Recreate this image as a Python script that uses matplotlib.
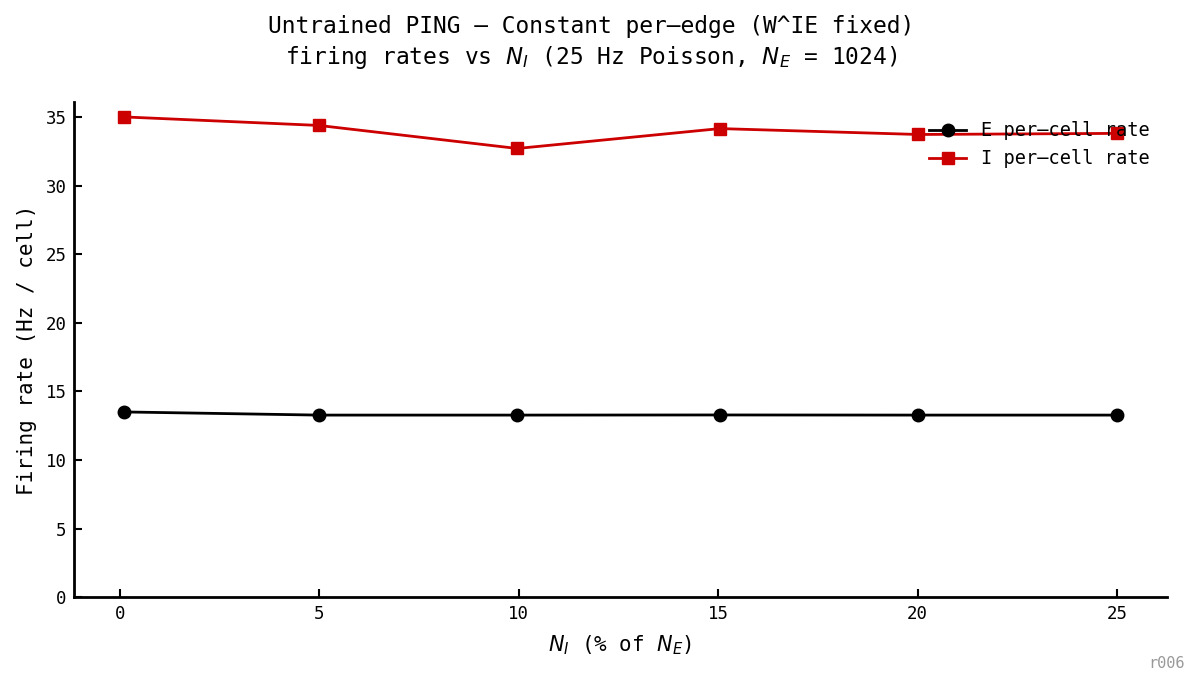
import matplotlib
matplotlib.use("Agg")
import matplotlib.pyplot as plt

plt.rcParams['font.family'] = ['DejaVu Sans Mono']
plt.rcParams['mathtext.fontset'] = 'dejavusans'

n_i_pct = [0.098, 4.98, 9.96, 15.04, 20.02, 25.0]
e_rate = [13.5, 13.27, 13.27, 13.28, 13.27, 13.27]
i_rate = [35.0, 34.38, 32.7, 34.15, 33.72, 33.8]

fig, ax = plt.subplots(figsize=(11.99, 6.88), dpi=100)
ax.plot(n_i_pct, e_rate, '-o', color='black', lw=2, ms=9, label='E per–cell rate')
ax.plot(n_i_pct, i_rate, '-s', color='#cc0000', lw=2, ms=8.5, label='I per–cell rate')

ax.set_ylim(0, 36.1)
ax.set_xticks([0, 5, 10, 15, 20, 25])
ax.set_yticks([0, 5, 10, 15, 20, 25, 30, 35])
ax.tick_params(labelsize=12.5, width=1.5, length=6, direction='in', pad=5.5)
for s in ['top', 'right']:
    ax.spines[s].set_visible(False)
for s in ['left', 'bottom']:
    ax.spines[s].set_linewidth(2)

ax.set_xlabel(r'$N_I$ (% of $N_E$)', fontsize=15, labelpad=7.5)
ax.set_ylabel('Firing rate (Hz / cell)', fontsize=15, labelpad=6)
fig.text(0.493, 0.978, 'Untrained PING – Constant per–edge (W^IE fixed)\n'
         r'firing rates vs $N_I$ (25 Hz Poisson, $N_E$ = 1024)', fontsize=16.5,
         ha='center', va='top', linespacing=1.3)
ax.legend(loc='upper right', frameon=False, fontsize=13.4, bbox_to_anchor=(1.0, 0.995))

fig.subplots_adjust(left=0.062, right=0.973, bottom=0.132, top=0.852)
fig.text(0.988, 0.024, 'r006', ha='right', va='bottom', fontsize=11, color='#999999')
fig.savefig('out.png', dpi=100)
